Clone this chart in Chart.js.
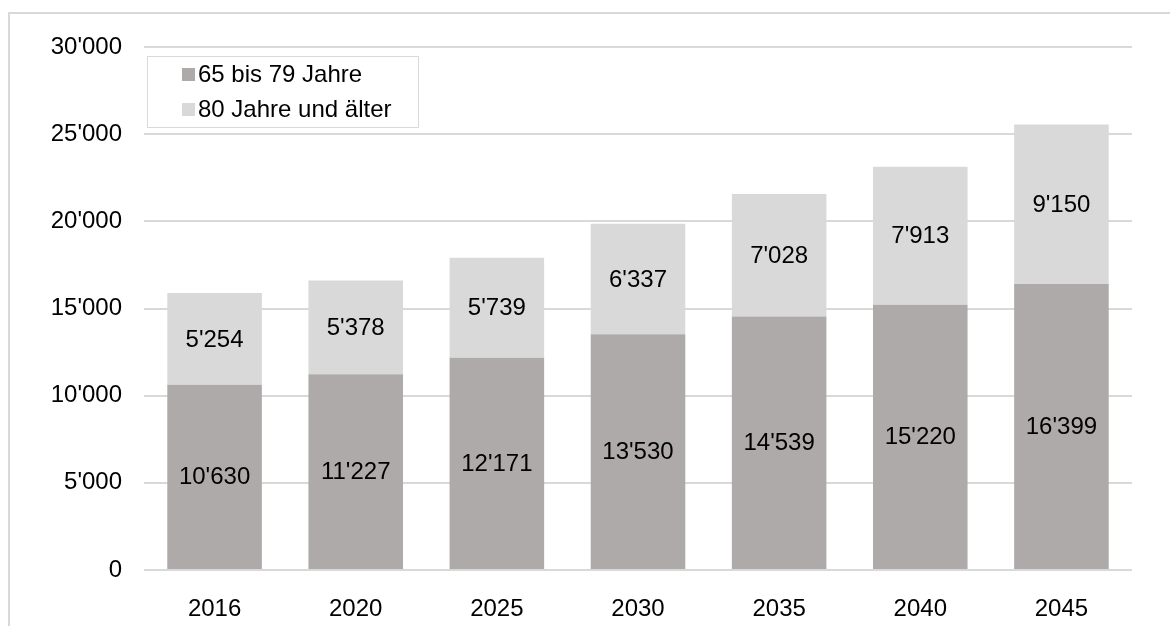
<!DOCTYPE html>
<html>
<head>
<meta charset="utf-8">
<script src="https://cdn.jsdelivr.net/npm/chart.js@4/dist/chart.umd.min.js"></script>
<style>
  html, body { margin: 0; padding: 0; background: #fff; overflow: hidden; }
  #frame { position: absolute; left: 8px; top: 12px; width: 1300px; height: 800px;
           border-left: 2px solid #d9d9d9; border-top: 2px solid #d9d9d9; }
  #wrap { position: absolute; left: 0; top: 0; width: 1170px; height: 626px; }
</style>
</head>
<body>
<div id="frame"></div>
<div id="wrap"><canvas id="chart" width="1170" height="626"></canvas></div>
<script>
const years = ['2016', '2020', '2025', '2030', '2035', '2040', '2045'];
const age65to79 = [10630, 11227, 12171, 13530, 14539, 15220, 16399];
const age80plus = [5254, 5378, 5739, 6337, 7028, 7913, 9150];
const seriesNames = ['65 bis 79 Jahre', '80 Jahre und älter'];

const FONT = '"Liberation Sans", Arial, sans-serif';
const fmt = v => String(v).replace(/\B(?=(\d{3})+(?!\d))/g, "'");

// value labels in the middle of each segment
const barLabels = {
    id: 'barLabels',
    afterDatasetsDraw(chart) {
        const ctx = chart.ctx;
        ctx.save();
        ctx.font = '24px ' + FONT;
        ctx.fillStyle = '#000';
        ctx.textAlign = 'center';
        ctx.textBaseline = 'middle';
        chart.data.datasets.forEach((ds, i) => {
            chart.getDatasetMeta(i).data.forEach((bar, j) => {
                ctx.fillText(fmt(ds.data[j]), bar.x, (bar.y + bar.base) / 2 + 1);
            });
        });
        ctx.restore();
    }
};

// legend box inside the plot, top left
const boxLegend = {
    id: 'boxLegend',
    afterDraw(chart) {
        const ctx = chart.ctx;
        const a = chart.chartArea;
        const x = a.left + 3, y = a.top + 9;
        ctx.save();
        ctx.fillStyle = '#fff';
        ctx.fillRect(x, y, 271, 71);
        ctx.strokeStyle = '#d9d9d9';
        ctx.lineWidth = 1;
        ctx.strokeRect(x + 0.5, y + 0.5, 271, 71);
        ctx.font = '24px ' + FONT;
        ctx.textBaseline = 'middle';
        chart.data.datasets.forEach((ds, i) => {
            const cy = y + 18 + i * 35;
            ctx.fillStyle = ds.backgroundColor;
            ctx.fillRect(x + 35, cy - 6, 13, 13);
            ctx.fillStyle = '#000';
            ctx.fillText(ds.label, x + 51, cy + 1);
        });
        ctx.restore();
    }
};

new Chart(document.getElementById('chart'), {
    type: 'bar',
    data: {
        labels: years,
        datasets: [
            { label: seriesNames[0], data: age65to79, backgroundColor: '#aeaaaa' },
            { label: seriesNames[1], data: age80plus, backgroundColor: '#d9d9d9' }
        ]
    },
    options: {
        responsive: false,
        animation: false,
        events: [],
        layout: { padding: { top: 47, right: 38, left: 0, bottom: 0 } },
        datasets: { bar: { barPercentage: 0.67, categoryPercentage: 1 } },
        plugins: { legend: { display: false }, tooltip: { enabled: false } },
        scales: {
            x: {
                stacked: true,
                grid: { display: false },
                border: { display: false },
                ticks: { color: '#000', font: { family: FONT, size: 24 }, padding: 17 },
                afterFit(s) { s.height = 56; }
            },
            y: {
                stacked: true,
                min: 0, max: 30000,
                grid: { color: '#d9d9d9', lineWidth: 2, drawTicks: false },
                border: { display: false },
                ticks: { stepSize: 5000, color: '#000', padding: 22,
                         font: { family: FONT, size: 24 }, callback: v => fmt(v) },
                afterFit(s) { s.width = 144; }
            }
        }
    },
    plugins: [barLabels, boxLegend]
});
</script>
</body>
</html>
